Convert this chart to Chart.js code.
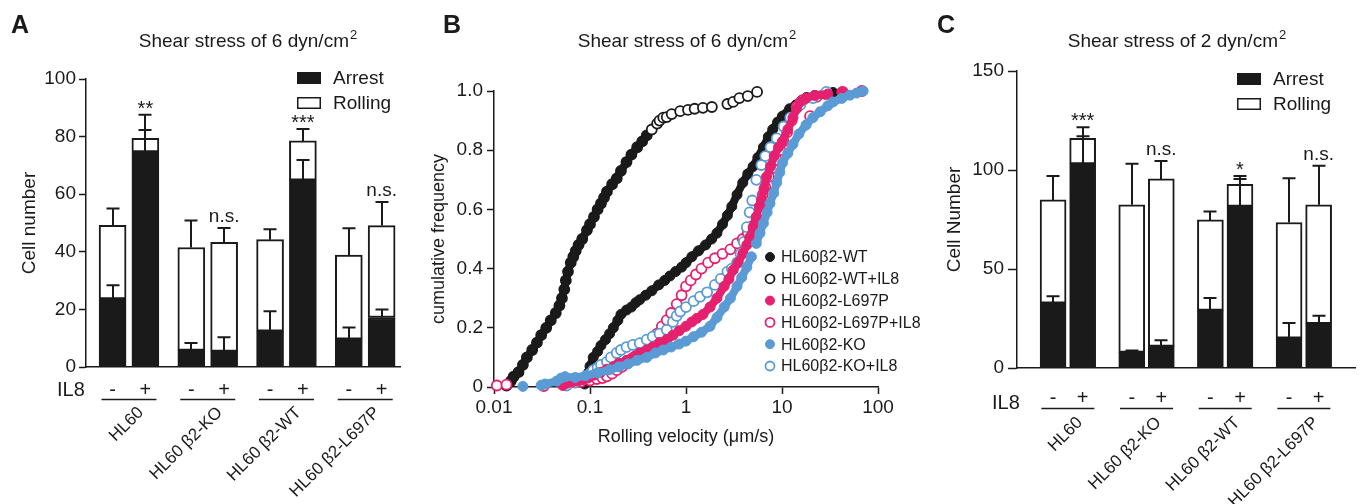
<!DOCTYPE html>
<html>
<head>
<meta charset="utf-8">
<script src="https://cdn.jsdelivr.net/npm/chart.js@4.4.0/dist/chart.umd.min.js"></script>
<style>
  html, body { margin: 0; padding: 0; background: #fff; }
  #wrap { position: relative; width: 1360px; height: 504px; }
  canvas { position: absolute; left: 0; top: 0; }
</style>
</head>
<body>
<div id="wrap">
  <canvas id="chartA" width="1360" height="504"></canvas>
  <canvas id="chartB" width="1360" height="504"></canvas>
  <canvas id="chartC" width="1360" height="504"></canvas>
</div>
<script>
const FONT = '"Liberation Sans", Arial, Helvetica, sans-serif';
const INK = '#1a1a1a';
const MAGENTA = '#e5216f';
const BLUE = '#5b9bd5';

// --- data ---
const groupNames = ['HL60', 'HL60 β2-KO', 'HL60 β2-WT', 'HL60 β2-L697P'];
const il8Signs = ['-', '+'];

// panel A, 6 dyn/cm2 (bars in order HL60 -/+, KO -/+, WT -/+, L697P -/+)
const arrestA = [23.6, 74.7, 5.8, 5.4, 12.4, 64.9, 9.7, 17.2];
const rollingA = [25.6, 4.7, 35.7, 37.9, 31.8, 13.6, 29.2, 31.9];
const arrestErrA = [4.8, 7.6, 2.5, 4.9, 7.0, 7.0, 4.0, 2.8];
const rollingErrA = [5.8, 8.2, 9.4, 5.0, 3.6, 4.1, 9.3, 8.2];
const signifA = ['', '**', '', 'n.s.', '', '***', '', 'n.s.'];

// panel C, 2 dyn/cm2
const arrestC = [32.8, 103.1, 7.9, 10.9, 29.1, 81.6, 15.1, 22.4];
const rollingC = [52.1, 12.9, 74.5, 84.6, 45.7, 11.2, 58.4, 60.0];
const arrestErrC = [3.4, 13.9, 1.0, 3.1, 6.2, 13.9, 7.6, 4.0];
const rollingErrC = [12.1, 5.6, 20.7, 9.1, 4.2, 4.2, 22.3, 19.8];
const signifC = ['', '***', '', 'n.s.', '', '*', '', 'n.s.'];

// panel B, rolling velocity (um/s) vs cumulative frequency
const velTicks = [0.01, 0.1, 1, 10, 100];
const wt = [[0.088,0.01],[0.093,0.03],[0.097,0.05],[0.10,0.07],[0.108,0.10],[0.12,0.12],[0.13,0.14],[0.145,0.16],
  [0.16,0.18],[0.175,0.20],[0.195,0.225],[0.21,0.245],[0.24,0.26],[0.27,0.27],[0.30,0.285],[0.33,0.295],[0.38,0.31],
  [0.44,0.325],[0.52,0.345],[0.60,0.36],[0.68,0.375],[0.78,0.39],[0.9,0.405],[1.0,0.42],[1.15,0.44],[1.35,0.46],
  [1.6,0.48],[1.85,0.50],[2.1,0.52],[2.4,0.55],[2.7,0.58],[3.0,0.61],[3.4,0.65],[3.9,0.69],[4.4,0.72],[5.0,0.745],
  [5.6,0.775],[6.4,0.81],[7.2,0.845],[8.0,0.87],[9.0,0.895],[10.1,0.915],[12,0.94],[14,0.953],[16,0.968],[18,0.978],
  [22,0.985],[28,0.99],[34,0.995]];
const wtIL8 = [[0.0135,0.005],[0.015,0.02],[0.016,0.035],[0.018,0.05],[0.020,0.075],[0.022,0.10],[0.025,0.125],
  [0.028,0.15],[0.031,0.175],[0.035,0.20],[0.039,0.225],[0.044,0.25],[0.048,0.275],[0.051,0.30],[0.054,0.33],
  [0.056,0.36],[0.059,0.39],[0.063,0.42],[0.067,0.44],[0.071,0.46],[0.076,0.48],[0.083,0.50],[0.093,0.53],[0.10,0.55],
  [0.11,0.575],[0.12,0.60],[0.13,0.62],[0.14,0.64],[0.15,0.66],[0.17,0.685],[0.19,0.705],[0.21,0.73],[0.24,0.76],
  [0.27,0.785],[0.31,0.81],[0.35,0.83],[0.39,0.85],[0.44,0.87],[0.50,0.89],[0.53,0.90],[0.58,0.91],[0.63,0.912],
  [0.71,0.922],[0.87,0.932],[1.05,0.936],[1.23,0.94],[1.5,0.943],[1.86,0.946],[2.7,0.956],[3.1,0.963],[3.6,0.976],
  [4.4,0.983],[5.5,0.997]];
const l697p = [[0.052,0.005],[0.058,0.013],[0.066,0.017],[0.075,0.02],[0.085,0.025],[0.095,0.03],[0.11,0.04],
  [0.13,0.05],[0.15,0.06],[0.175,0.068],[0.2,0.08],[0.24,0.09],[0.28,0.10],[0.33,0.115],[0.39,0.125],[0.45,0.135],
  [0.53,0.15],[0.63,0.16],[0.73,0.175],[0.85,0.19],[1.0,0.205],[1.15,0.22],[1.3,0.232],[1.5,0.245],[1.78,0.27],
  [2.1,0.30],[2.5,0.34],[2.8,0.365],[3.1,0.395],[3.5,0.42],[3.9,0.45],[4.3,0.48],[4.6,0.505],[5.0,0.54],[5.4,0.575],
  [5.8,0.61],[6.1,0.63],[6.5,0.67],[6.9,0.71],[7.6,0.745],[8.3,0.78],[9.2,0.81],[10.1,0.83],[11.5,0.87],[13,0.91],
  [14.2,0.94],[15.5,0.963],[17.8,0.976],[22,0.985],[30,0.99],[42,0.997]];
const l697pIL8 = [[0.0107,0.005],[0.0135,0.008],[0.033,0.003],[0.06,0.012],[0.08,0.017],[0.1,0.022],[0.118,0.027],
  [0.135,0.03],[0.15,0.036],[0.17,0.045],[0.19,0.057],[0.215,0.068],[0.24,0.08],[0.27,0.095],[0.3,0.105],[0.33,0.115],
  [0.37,0.13],[0.41,0.145],[0.45,0.16],[0.5,0.18],[0.56,0.205],[0.63,0.226],[0.7,0.25],[0.8,0.28],[0.9,0.31],[1.0,0.34],
  [1.12,0.36],[1.27,0.38],[1.45,0.40],[1.7,0.42],[2.0,0.435],[2.4,0.45],[2.9,0.465],[3.4,0.485],[3.9,0.50],[4.4,0.52],
  [5.0,0.545],[5.4,0.575],[5.9,0.62],[6.3,0.65],[6.7,0.675],[7.3,0.71],[8.0,0.74],[8.8,0.767],[9.6,0.80],[10.4,0.83],
  [11.3,0.86],[12.6,0.9],[14.2,0.946],[16.6,0.97],[19.6,0.915],[23,0.98],[29,0.99],[43,0.997],[68,1.0]];
const ko = [[0.02,0.002],[0.031,0.006],[0.034,0.01],[0.045,0.02],[0.05,0.03],[0.055,0.035],[0.07,0.032],[0.09,0.038],
  [0.12,0.048],[0.16,0.058],[0.2,0.068],[0.25,0.078],[0.31,0.09],[0.39,0.10],[0.48,0.115],[0.58,0.125],[0.7,0.135],
  [0.85,0.145],[1.0,0.155],[1.2,0.17],[1.45,0.185],[1.78,0.205],[2.1,0.235],[2.5,0.27],[2.9,0.30],[3.4,0.34],
  [3.8,0.37],[4.3,0.405],[4.8,0.44],[5.4,0.485],[5.9,0.52],[6.4,0.553],[7.0,0.59],[7.5,0.62],[8.2,0.655],[8.8,0.69],
  [9.5,0.725],[10.1,0.757],[11.5,0.79],[13,0.82],[15,0.855],[17.8,0.885],[21,0.91],[25,0.93],[30,0.95],[34,0.963],
  [42,0.975],[51,0.986],[60,0.993],[70,1.0]];
const koIL8 = [[0.057,0.005],[0.07,0.015],[0.08,0.025],[0.09,0.035],[0.1,0.045],[0.108,0.057],[0.12,0.065],[0.13,0.075],
  [0.15,0.085],[0.165,0.1],[0.19,0.115],[0.21,0.125],[0.24,0.135],[0.28,0.142],[0.33,0.148],[0.39,0.16],[0.45,0.17],
  [0.53,0.18],[0.63,0.193],[0.73,0.22],[0.8,0.24],[0.87,0.255],[1.0,0.27],[1.2,0.29],[1.4,0.305],[1.66,0.32],
  [2.0,0.345],[2.3,0.365],[2.7,0.39],[3.0,0.40],[3.4,0.42],[3.7,0.45],[4.0,0.49],[4.3,0.54],[4.6,0.59],[4.9,0.63],
  [5.4,0.70],[6.1,0.75],[6.7,0.78],[7.6,0.81],[8.8,0.84],[10.4,0.88],[12.2,0.91],[15.5,0.953],[21,0.976],[29,0.997]];

Chart.defaults.font.family = FONT;
Chart.defaults.color = INK;

const AXW = 80; // fixed width of every y axis box

function drawTitle(ctx, text, sup, cx, baseline) {
  ctx.font = '19px ' + FONT;
  const w1 = ctx.measureText(text).width;
  ctx.font = '13px ' + FONT;
  const w2 = ctx.measureText(sup).width;
  const x0 = cx - (w1 + w2 + 1) / 2;
  ctx.textAlign = 'left';
  ctx.textBaseline = 'alphabetic';
  ctx.fillStyle = INK;
  ctx.font = '19px ' + FONT;
  ctx.fillText(text, x0, baseline);
  ctx.font = '13px ' + FONT;
  ctx.fillText(sup, x0 + w1 + 1, baseline - 8);
}

function drawLetter(ctx, letter, x) {
  ctx.fillStyle = INK;
  ctx.font = 'bold 25px ' + FONT;
  ctx.textAlign = 'left';
  ctx.textBaseline = 'alphabetic';
  ctx.fillText(letter, x, 33);
}

function yAxis(max, step, title, titleCenter, lay, tickLen, pad) {
  return {
    stacked: true, min: 0, max: max,
    ticks: { stepSize: step, font: { size: 19 }, color: INK, padding: pad },
    grid: { display: true, drawOnChartArea: false, drawTicks: true, tickLength: tickLen, tickWidth: 1.5, tickColor: INK, color: INK },
    border: { display: true, color: INK, width: 1.5 },
    title: { display: true, text: title, color: INK, font: { size: 19 },
      padding: { top: titleCenter - (lay.left - AXW) - 11.4, bottom: 0 } },
    afterFit: s => { s.width = AXW; s.paddingTop = 0; s.paddingBottom = 0; }
  };
}

function makeBarChart(id, d, lay) {
  const pos = d.arrest.map((_, i) => Math.floor(i / 2) * lay.pairStep + (i % 2));

  const errorBars = {
    id: 'errorBars',
    afterDatasetsDraw(chart) {
      const ctx = chart.ctx, ys = chart.scales.y, xs = chart.scales.x;
      ctx.save();
      ctx.strokeStyle = INK;
      ctx.lineWidth = 2;
      pos.forEach((p, i) => {
        const bx = Math.round(xs.getPixelForValue(p));
        const total = d.arrest[i] + d.rolling[i];
        [[d.arrest[i], d.arrest[i] + d.arrestErr[i]], [total, total + d.rollingErr[i]]].forEach(([a, b]) => {
          const y0 = ys.getPixelForValue(a), y1 = ys.getPixelForValue(b);
          ctx.beginPath();
          ctx.moveTo(bx, y0); ctx.lineTo(bx, y1);
          ctx.moveTo(bx - 6.5, y1); ctx.lineTo(bx + 6.5, y1);
          ctx.stroke();
        });
      });
      ctx.restore();
    }
  };

  const deco = {
    id: 'deco',
    afterDraw(chart) {
      const ctx = chart.ctx, xs = chart.scales.x, ys = chart.scales.y;
      ctx.save();
      drawLetter(ctx, lay.letter, lay.letterX);
      drawTitle(ctx, lay.title, '2', lay.titleX, 47);

      // legend
      chart.data.datasets.forEach((ds, k) => {
        const top = lay.legendTop + k * 25;
        ctx.fillStyle = ds.backgroundColor;
        ctx.fillRect(lay.legendX, top, 24, 12);
        ctx.strokeStyle = INK;
        ctx.lineWidth = 1.5;
        ctx.strokeRect(lay.legendX + 0.75, top + 0.75, 22.5, 10.5);
        ctx.fillStyle = INK;
        ctx.font = '19px ' + FONT;
        ctx.textAlign = 'left';
        ctx.textBaseline = 'middle';
        ctx.fillText(ds.label, lay.legendX + 36, top + 7);
      });

      // significance marks
      ctx.textAlign = 'center';
      ctx.textBaseline = 'alphabetic';
      d.signif.forEach((t, i) => {
        if (!t) return;
        const total = d.arrest[i] + d.rolling[i];
        const topVal = Math.max(total + d.rollingErr[i], d.arrest[i] + d.arrestErr[i]);
        const yTop = ys.getPixelForValue(topVal);
        const star = t.indexOf('*') === 0;
        ctx.font = (star ? '20px ' : '19px ') + FONT;
        ctx.fillText(t, xs.getPixelForValue(pos[i]), star ? yTop : yTop - 5.5);
      });

      // IL8 row
      ctx.font = '20px ' + FONT;
      ctx.textAlign = 'left';
      ctx.fillText('IL8', lay.il8X, lay.il8Y);
      ctx.textAlign = 'center';
      pos.forEach((p, i) => ctx.fillText(il8Signs[i % 2], xs.getPixelForValue(p), lay.signY));

      // group underline + rotated names
      ctx.strokeStyle = INK;
      ctx.lineWidth = 1.5;
      groupNames.forEach((g, k) => {
        const cx = xs.getPixelForValue(k * lay.pairStep + 0.5);
        ctx.beginPath();
        ctx.moveTo(cx - lay.lineHalf, lay.lineY);
        ctx.lineTo(cx + lay.lineHalf, lay.lineY);
        ctx.stroke();
        ctx.save();
        ctx.translate(cx + 6, lay.labelY);
        ctx.rotate(-Math.PI / 4);
        ctx.font = '17px ' + FONT;
        ctx.textAlign = 'right';
        ctx.textBaseline = 'top';
        ctx.fillText(g, 0, 0);
        ctx.restore();
      });
      ctx.restore();
    }
  };

  return new Chart(document.getElementById(id), {
    type: 'bar',
    data: {
      datasets: [
        { label: 'Arrest', data: d.arrest.map((v, i) => ({ x: pos[i], y: v })),
          backgroundColor: INK, borderColor: INK, borderWidth: 2, barThickness: lay.barW },
        { label: 'Rolling', data: d.rolling.map((v, i) => ({ x: pos[i], y: v })),
          backgroundColor: '#ffffff', borderColor: INK, borderWidth: 2, borderSkipped: false, barThickness: lay.barW }
      ]
    },
    options: {
      responsive: false, animation: false, events: [],
      layout: { padding: { left: lay.left - AXW, top: lay.top, right: 1360 - lay.right, bottom: 504 - lay.bottom } },
      plugins: { legend: { display: false }, tooltip: { enabled: false } },
      scales: {
        x: { type: 'linear', min: lay.xMin, max: lay.xMax, offset: false, stacked: true,
          ticks: { display: false }, grid: { display: false },
          border: { display: true, color: INK, width: 1.5 },
          afterFit: s => { s.height = 0; s.paddingLeft = 0; s.paddingRight = 0; } },
        y: yAxis(lay.yMax, lay.yStep, lay.yTitle, lay.yTitleX, lay, lay.tickLen, lay.tickPad)
      }
    },
    plugins: [errorBars, deco]
  });
}

makeBarChart('chartA',
  { arrest: arrestA, rolling: rollingA, arrestErr: arrestErrA, rollingErr: rollingErrA, signif: signifA },
  { left: 86, top: 79, right: 400, bottom: 367, xMin: -0.81, xMax: 8.76, pairStep: 2.4, barW: 27,
    yMax: 100, yStep: 20, yTitle: 'Cell number', yTitleX: 30, tickLen: 7, tickPad: 3,
    letter: 'A', letterX: 11, title: 'Shear stress of 6 dyn/cm', titleX: 248,
    legendX: 297, legendTop: 72, il8X: 57, il8Y: 396, signY: 396, lineY: 399.5, lineHalf: 27.5, labelY: 404 });

makeBarChart('chartC',
  { arrest: arrestC, rolling: rollingC, arrestErr: arrestErrC, rollingErr: rollingErrC, signif: signifC },
  { left: 1017, top: 71, right: 1355, bottom: 368, xMin: -1.22, xMax: 10.21, pairStep: 2.66, barW: 26,
    yMax: 150, yStep: 50, yTitle: 'Cell Number', yTitleX: 955, tickLen: 9, tickPad: 4,
    letter: 'C', letterX: 937, title: 'Shear stress of 2 dyn/cm', titleX: 1177,
    legendX: 1237, legendTop: 73, il8X: 992, il8Y: 409, signY: 404, lineY: 408.5, lineHalf: 26.5, labelY: 414 });

// --- panel B ---
// neighbouring points closer than this (px) are joined into a solid band
const BAND_GAP = 14;
function near(c) {
  return Math.hypot(c.p1.x - c.p0.x, c.p1.y - c.p0.y) < BAND_GAP;
}
// filled: solid markers; denseBelow: open markers below this frequency look solid (packed rings)
function series(label, rows, color, filled, order, denseBelow) {
  const solid = c => filled || (denseBelow !== undefined && c.raw && c.raw.y < denseBelow);
  return {
    label: label, order: order, clip: false,
    legendFill: filled ? color : '#ffffff',
    data: rows.map(([x, y]) => ({ x: x, y: y })),
    pointRadius: 5, pointBorderWidth: filled ? 1 : 1.8,
    pointBackgroundColor: c => (solid(c) ? color : '#ffffff'),
    pointBorderColor: color,
    showLine: filled || denseBelow !== undefined,
    borderColor: color, borderWidth: 8,
    borderJoinStyle: 'round', borderCapStyle: 'round',
    segment: {
      borderColor: c => (near(c) && (filled || c.p1.parsed.y < denseBelow) ? color : 'rgba(0,0,0,0)')
    }
  };
}

const layB = { left: 494, top: 91, right: 878, bottom: 387 };

const decoB = {
  id: 'decoB',
  afterDraw(chart) {
    const ctx = chart.ctx;
    ctx.save();
    drawLetter(ctx, 'B', 443);
    drawTitle(ctx, 'Shear stress of 6 dyn/cm', '2', 687, 47);
    chart.data.datasets.forEach((ds, k) => {
      const y = 257 + k * 21.8;
      ctx.beginPath();
      ctx.arc(770, y, 4.5, 0, Math.PI * 2);
      ctx.fillStyle = ds.legendFill;
      ctx.fill();
      ctx.lineWidth = ds.pointBorderWidth;
      ctx.strokeStyle = ds.pointBorderColor;
      ctx.stroke();
      ctx.fillStyle = INK;
      ctx.font = '16px ' + FONT;
      ctx.textAlign = 'left';
      ctx.textBaseline = 'middle';
      ctx.fillText(ds.label, 781, y + 1);
    });
    ctx.restore();
  }
};

new Chart(document.getElementById('chartB'), {
  type: 'scatter',
  data: {
    datasets: [
      series('HL60β2-WT', wt, INK, true, 6),
      series('HL60β2-WT+IL8', wtIL8, INK, false, 5, 0.87),
      series('HL60β2-L697P', l697p, MAGENTA, true, 2),
      series('HL60β2-L697P+IL8', l697pIL8, MAGENTA, false, 4),
      series('HL60β2-KO', ko, BLUE, true, 1),
      series('HL60β2-KO+IL8', koIL8, BLUE, false, 3)
    ]
  },
  options: {
    responsive: false, animation: false, events: [],
    layout: { padding: { left: layB.left - AXW, top: layB.top, right: 1360 - layB.right, bottom: 504 - layB.bottom - 61 } },
    plugins: { legend: { display: false }, tooltip: { enabled: false } },
    scales: {
      x: {
        type: 'logarithmic', min: 0.01, max: 100,
        afterBuildTicks: s => { s.ticks = velTicks.map(v => ({ value: v })); },
        ticks: { callback: v => String(v), font: { size: 19 }, color: INK, padding: 2, autoSkip: false, maxRotation: 0 },
        grid: { display: true, drawOnChartArea: false, drawTicks: true, tickLength: 7, tickWidth: 1.5, tickColor: INK, color: INK },
        border: { display: true, color: INK, width: 1.5 },
        title: { display: true, text: 'Rolling velocity (μm/s)', color: INK, font: { size: 18 }, padding: { top: 0, bottom: 0 } },
        afterFit: s => { s.height = 61; s.paddingLeft = 0; s.paddingRight = 0; }
      },
      y: {
        min: 0, max: 1,
        ticks: { stepSize: 0.2, font: { size: 19 }, color: INK, padding: 4,
          callback: v => (v === 0 ? '0' : v.toFixed(1)) },
        grid: { display: true, drawOnChartArea: false, drawTicks: true, tickLength: 7, tickWidth: 1.5, tickColor: INK, color: INK },
        border: { display: true, color: INK, width: 1.5 },
        title: { display: true, text: 'cumulative frequency', color: INK, font: { size: 18 },
          padding: { top: 439 - (layB.left - AXW) - 10.8, bottom: 0 } },
        afterFit: s => { s.width = AXW; s.paddingTop = 0; s.paddingBottom = 0; }
      }
    }
  },
  plugins: [decoB]
});
</script>
</body>
</html>
